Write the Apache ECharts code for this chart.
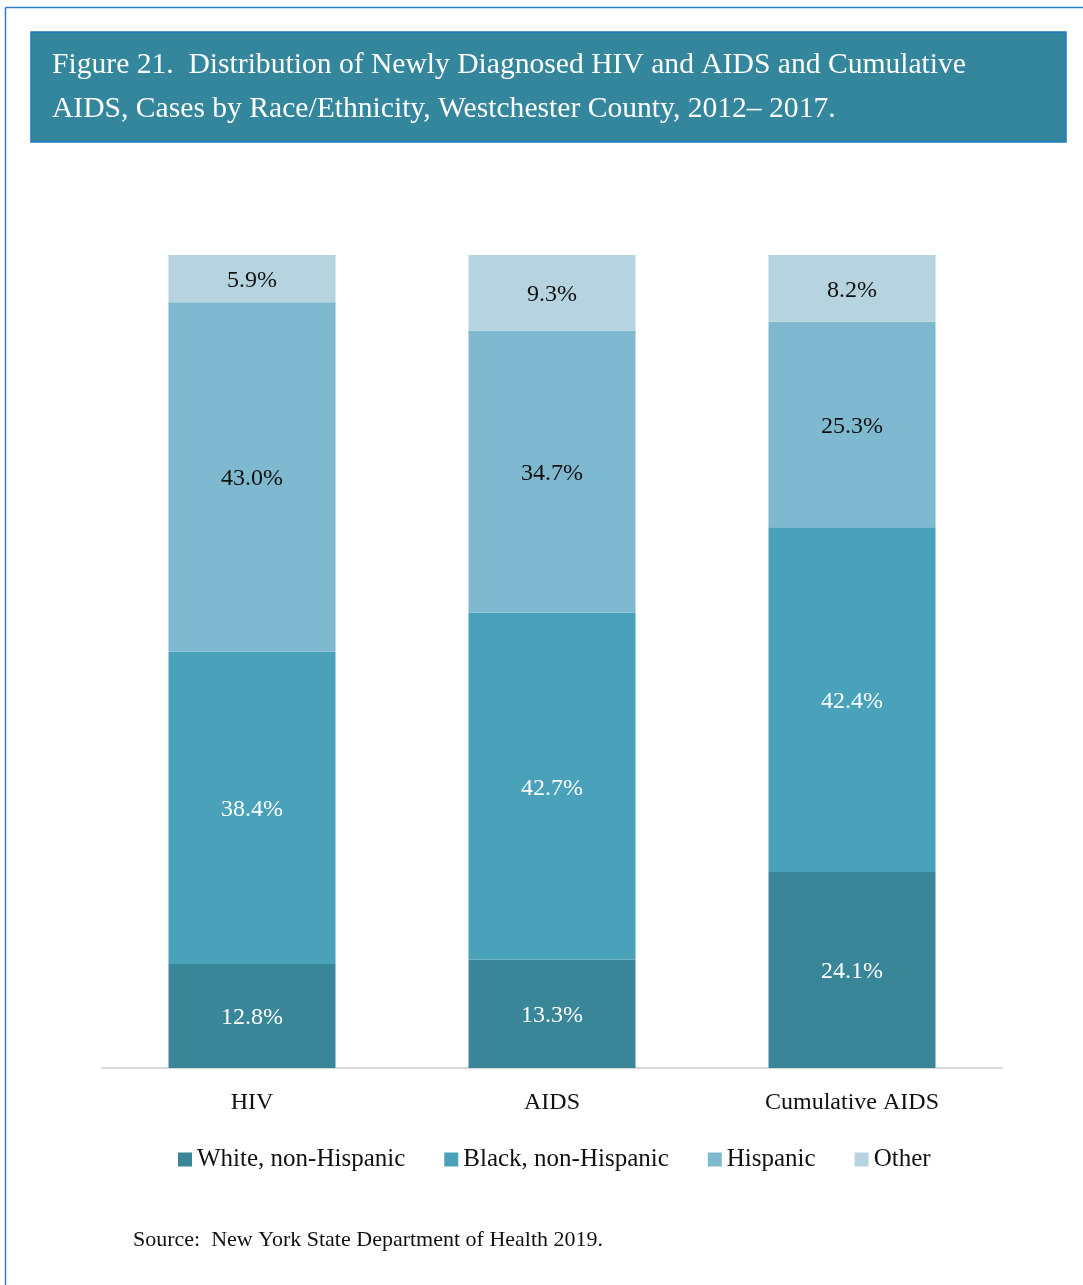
<!DOCTYPE html>
<html>
<head>
<meta charset="utf-8">
<script src="https://cdn.jsdelivr.net/npm/echarts@6/dist/echarts.min.js"></script>
<style>
  html, body { margin: 0; padding: 0; background: #fff; }
  #chart { width: 1083px; height: 1285px; }
</style>
</head>
<body>
<div id="chart"></div>
<script>
// Distribution of cases by race/ethnicity (percent of each group)
const categories = ['HIV', 'AIDS', 'Cumulative AIDS'];
const seriesNames = ['White, non-Hispanic', 'Black, non-Hispanic', 'Hispanic', 'Other'];
const whiteNH = [12.8, 13.3, 24.1];
const blackNH = [38.4, 42.7, 42.4];
const hispanic = [43.0, 34.7, 25.3];
const other = [5.9, 9.3, 8.2];

const colors = ['#3a8699', '#49a2b9', '#7eb9cf', '#b5d4df'];
const labelColors = ['#ffffff', '#ffffff', '#111111', '#111111'];
const serif = '"Liberation Serif", "DejaVu Serif", serif';

const values = [whiteNH, blackNH, hispanic, other];

const chart = echarts.init(document.getElementById('chart'), null, { renderer: 'canvas' });

const series = seriesNames.map((name, i) => ({
  name: name,
  type: 'bar',
  stack: 'total',
  barWidth: 167,
  data: values[i],
  itemStyle: { color: colors[i] },
  emphasis: { disabled: true },
  label: {
    show: true,
    position: 'inside',
    offset: [0, 2],
    formatter: p => p.value.toFixed(1) + '%',
    color: labelColors[i],
    fontFamily: serif,
    fontSize: 24
  }
}));

chart.setOption({
  animation: false,
  backgroundColor: '#ffffff',
  title: {
    text: 'Figure 21.  Distribution of Newly Diagnosed HIV and AIDS and Cumulative\nAIDS, Cases by Race/Ethnicity, Westchester County, 2012– 2017.',
    left: 52,
    top: 43,
    padding: 0,
    textStyle: {
      color: '#ffffff',
      fontFamily: serif,
      fontWeight: 'normal',
      fontSize: 29.6,
      lineHeight: 44
    }
  },
  graphic: [
    // outer frame (left and top edges)
    { type: 'line', shape: { x1: 5.5, y1: 7.5, x2: 1083, y2: 7.5 }, style: { stroke: '#2a7bc6', lineWidth: 1.5 }, z: 0 },
    { type: 'line', shape: { x1: 5.5, y1: 7.5, x2: 5.5, y2: 1285 }, style: { stroke: '#2a7bc6', lineWidth: 1.5 }, z: 0 },
    // heading box
    { type: 'rect', shape: { x: 31, y: 32, width: 1035, height: 110 }, style: { fill: '#33869c', stroke: '#1f78c8', lineWidth: 1.5 }, z: -1 },
    // source note
    { type: 'text', left: 133, top: 1229, style: { text: 'Source:  New York State Department of Health 2019.', fill: '#111111', font: '22px ' + serif } }
  ],
  legend: {
    data: seriesNames,
    top: 1147,
    left: 178,
    padding: 0,
    itemWidth: 14,
    itemHeight: 14,
    itemGap: 39,
    icon: 'rect',
    textStyle: { color: '#111111', fontFamily: serif, fontSize: 25 }
  },
  grid: { left: 102, right: 81, top: 255, bottom: 217, containLabel: false },
  xAxis: {
    type: 'category',
    data: categories,
    axisLine: { lineStyle: { color: '#d9d9d9', width: 2 } },
    axisTick: { show: false },
    axisLabel: { color: '#111111', fontFamily: serif, fontSize: 24, margin: 23 }
  },
  yAxis: {
    type: 'value',
    min: 0,
    max: 100,
    show: false,
    splitLine: { show: false }
  },
  series: series
});
</script>
</body>
</html>
